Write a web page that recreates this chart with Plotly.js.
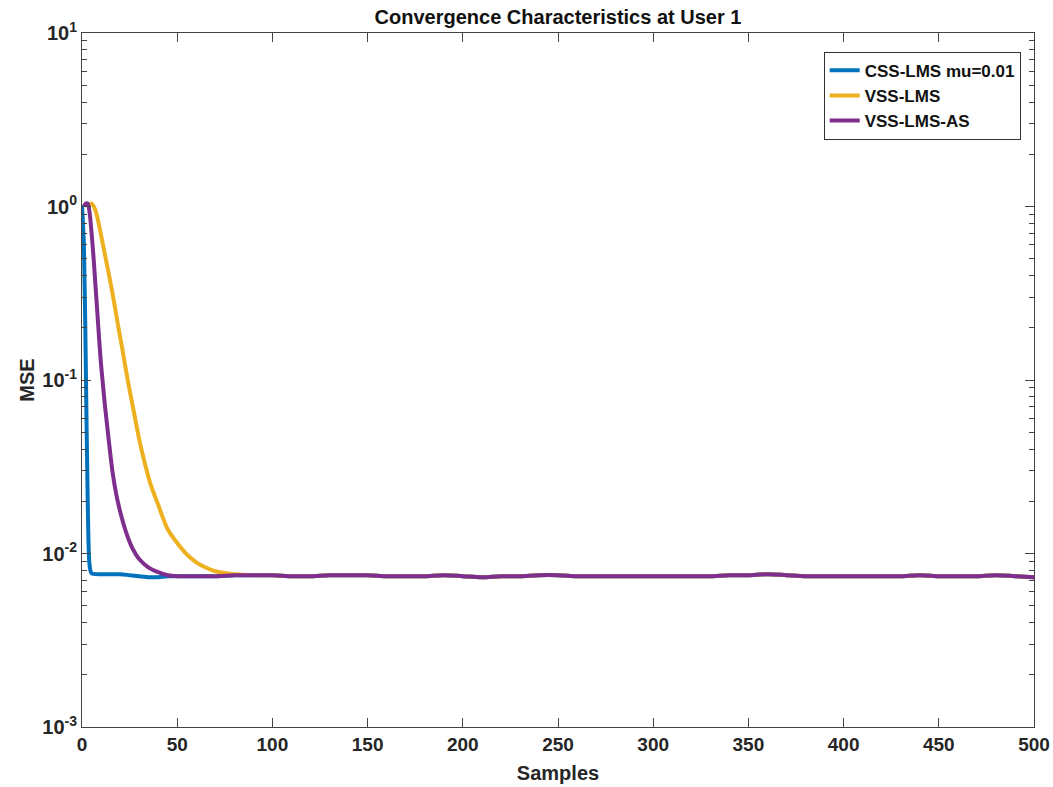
<!DOCTYPE html>
<html>
<head>
<meta charset="utf-8">
<script src="https://cdn.plot.ly/plotly-3.0.1.min.js"></script>
<style>html,body{margin:0;padding:0;background:#fff;}#chart{width:1053px;height:787px;}</style>
</head>
<body>
<div id="chart"></div>
<script>
// Series names
const seriesNames = ["CSS-LMS mu=0.01", "VSS-LMS", "VSS-LMS-AS"];

// CSS-LMS transient (samples, MSE)
const cssX = [0, 1, 2, 3, 4, 5, 10, 15, 20, 25, 30, 35, 40, 45];
const cssY = [1.02, 0.6, 0.12, 0.02, 0.0085, 0.0077, 0.0076, 0.0076, 0.0076, 0.0075, 0.0074, 0.0073, 0.0073, 0.0074];

// VSS-LMS transient
const vssX = [3, 5, 7, 9, 11, 13, 15, 17, 19, 21, 24, 27, 30, 33, 36, 40, 45, 50, 55, 60, 65, 70, 80, 90];
const vssY = [1.0, 1.04, 0.955, 0.776, 0.603, 0.468, 0.363, 0.275, 0.204, 0.155, 0.1, 0.0676, 0.0457, 0.0331, 0.0251, 0.0191, 0.0138, 0.0115, 0.0099, 0.0089, 0.0083, 0.0079, 0.0076, 0.0075];

// VSS-LMS-AS transient
const asX = [1, 2, 3, 4, 5, 6, 7, 8, 9, 10, 11, 12, 14, 16, 18, 20, 23, 26, 30, 35, 40, 45];
const asY = [1.0, 1.04, 1.04, 0.92, 0.71, 0.52, 0.36, 0.25, 0.172, 0.123, 0.094, 0.072, 0.0455, 0.0297, 0.0219, 0.0175, 0.0134, 0.011, 0.0093, 0.0083, 0.0078, 0.0075];

// Common steady-state section (samples, MSE)
const steadyX = [50, 60, 70, 80, 90, 100, 110, 120, 130, 140, 150, 160, 170, 180, 190, 200, 210, 220, 230, 240, 250, 260, 270, 280, 290, 300, 310, 320, 330, 340, 350, 360, 370, 380, 390, 400, 410, 420, 430, 440, 450, 460, 470, 480, 490, 500];
const steadyY = [0.0074, 0.0074, 0.0074, 0.0075, 0.0075, 0.0075, 0.0074, 0.0074, 0.0075, 0.0075, 0.0075, 0.0074, 0.0074, 0.0074, 0.0075, 0.0074, 0.0073, 0.0074, 0.0074, 0.0075, 0.0075, 0.0074, 0.0074, 0.0074, 0.0074, 0.0074, 0.0074, 0.0074, 0.0074, 0.0075, 0.0075, 0.0076, 0.0075, 0.0074, 0.0074, 0.0074, 0.0074, 0.0074, 0.0074, 0.0075, 0.0074, 0.0074, 0.0074, 0.0075, 0.0074, 0.0073];

// Axis tick labels
const xTicks = [0, 50, 100, 150, 200, 250, 300, 350, 400, 450, 500];
const yTickVals = [0.001, 0.01, 0.1, 1, 10];
const yTickText = ["10<sup>-3</sup>", "10<sup>-2</sup>", "10<sup>-1</sup>", "10<sup>0</sup>", "10<sup>1</sup>"];

const colors = ["#0072BD", "#EDB120", "#7E2F8E"];

function tail(fromX) {
  const xs = [], ys = [];
  for (let i = 0; i < steadyX.length; i++) {
    if (steadyX[i] > fromX) { xs.push(steadyX[i]); ys.push(steadyY[i]); }
  }
  return [xs, ys];
}
function build(x, y, name, color) {
  const t = tail(x[x.length - 1]);
  return {
    x: x.concat(t[0]), y: y.concat(t[1]), name: "<b>" + name + "</b>", type: "scatter", mode: "lines",
    line: {color: color, width: 4, shape: "spline", smoothing: 0.8}
  };
}

const traces = [
  build(cssX, cssY, seriesNames[0], colors[0]),
  build(vssX, vssY, seriesNames[1], colors[1]),
  build(asX, asY, seriesNames[2], colors[2])
];

const fam = "Liberation Sans, Arial, sans-serif";

const layout = {
  width: 1053, height: 787,
  margin: {l: 82, r: 19, t: 33, b: 60},
  paper_bgcolor: "#fff", plot_bgcolor: "#fff",
  font: {family: fam, color: "#262626"},
  showlegend: true,
  title: {
    text: "<b>Convergence Characteristics at User 1</b>",
    font: {family: fam, size: 20, color: "#111"},
    x: 0.5, xref: "paper", xanchor: "center", y: 0.979, yref: "container", yanchor: "middle"
  },
  xaxis: {
    range: [0, 500], tickvals: xTicks, ticktext: xTicks.map(v => "<b>" + v + "</b>"),
    ticks: "inside", ticklen: 9, tickwidth: 1, tickcolor: "#444",
    showline: true, linecolor: "#444", linewidth: 1, mirror: "ticks",
    showgrid: false, zeroline: false,
    tickfont: {family: fam, size: 19, color: "#262626"},
    title: {text: "<b>Samples</b>", font: {family: fam, size: 20, color: "#262626"}, standoff: 12},
    automargin: false
  },
  yaxis: {
    type: "log", range: [-3, 1],
    tickvals: yTickVals, ticktext: yTickText.map(s => "<b>" + s + "</b>"),
    ticks: "inside", ticklen: 9, tickwidth: 1, tickcolor: "#444",
    minor: {ticks: "inside", ticklen: 5, tickcolor: "#444", dtick: "D1", showgrid: false},
    showline: true, linecolor: "#444", linewidth: 1, mirror: "ticks",
    showgrid: false, zeroline: false,
    tickfont: {family: fam, size: 20, color: "#262626"},
    title: {text: "<b>MSE</b>", font: {family: fam, size: 20, color: "#262626"}, standoff: 2},
    automargin: false
  },
  legend: {
    x: 0.986, y: 0.973, xanchor: "right", yanchor: "top",
    bgcolor: "#fff", bordercolor: "#333", borderwidth: 1,
    font: {family: fam, size: 17, color: "#111"},
    tracegroupgap: 0
  }
};

Plotly.newPlot("chart", traces, layout, {displayModeBar: false, staticPlot: true});
</script>
</body>
</html>
